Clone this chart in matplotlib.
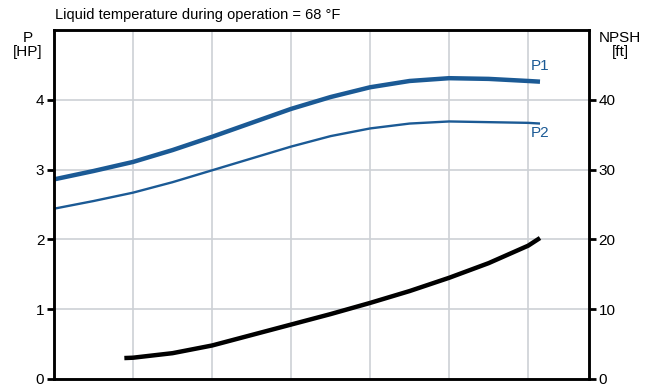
import numpy as np
import matplotlib.pyplot as plt

plt.rcParams['font.family'] = ['Liberation Sans', 'DejaVu Sans']

# flow axis has no labels; gridlines every unit
x_p = [0, 0.5, 1, 1.5, 2, 2.5, 3, 3.5, 4, 4.5, 5, 5.5, 6, 6.15]
p1 = [2.86, 2.98, 3.11, 3.28, 3.47, 3.67, 3.87, 4.04, 4.18, 4.27, 4.31, 4.30, 4.27, 4.26]
p2 = [2.44, 2.55, 2.67, 2.82, 2.99, 3.16, 3.33, 3.48, 3.59, 3.66, 3.69, 3.68, 3.67, 3.66]

x_npsh = [0.89, 1, 1.5, 2, 2.5, 3, 3.5, 4, 4.5, 5, 5.5, 6, 6.15]
npsh = [3.0, 3.05, 3.7, 4.8, 6.3, 7.8, 9.3, 10.9, 12.6, 14.5, 16.6, 19.1, 20.2]

blue = '#1b5a95'

fig = plt.figure(figsize=(6.54, 3.85), dpi=100)
ax = fig.add_axes([0.0826, 0.0156, 0.818, 0.9064])
ax2 = ax.twinx()

ax.set_xlim(0, 6.77)
ax.set_ylim(0, 5)
ax2.set_ylim(0, 50)

ax.set_xticks(np.arange(1, 7))
ax.tick_params(axis='x', length=0, labelbottom=False)
ax.set_yticks([0, 1, 2, 3, 4])
ax.tick_params(axis='y', length=5, width=2, labelsize=11, pad=2)
ax2.set_yticks([0, 10, 20, 30, 40])
ax2.tick_params(axis='y', length=5, width=2, labelsize=11, pad=2)
ax.grid(True, color='#cdd1d5', linewidth=1.2)
ax.set_axisbelow(True)

for a in (ax, ax2):
    for s in a.spines.values():
        s.set_linewidth(1.8)
        s.set_color('black')

ax.plot(x_p, p1, color=blue, lw=3.2, solid_capstyle='butt', solid_joinstyle='round')
ax.plot(x_p, p2, color=blue, lw=1.7, solid_capstyle='butt', solid_joinstyle='round')
ax2.plot(x_npsh, npsh, color='black', lw=3.2, solid_capstyle='butt', solid_joinstyle='round')

ax.text(6.15, 4.38, 'P1', color=blue, fontsize=11, ha='center', va='bottom')
ax.text(6.15, 3.63, 'P2', color=blue, fontsize=11, ha='center', va='top')

fig.text(55/654, 1 - 15/385, 'Liquid temperature during operation = 68 °F',
         fontsize=10.5, ha='left', va='center')
fig.text(28/654, 1 - 45/385, 'P\n[HP]', fontsize=11, ha='center', va='center',
         linespacing=0.95)
fig.text(620/654, 1 - 45/385, 'NPSH\n[ft]', fontsize=11, ha='center', va='center',
         linespacing=0.95)

fig.savefig('out.png', dpi=100)
